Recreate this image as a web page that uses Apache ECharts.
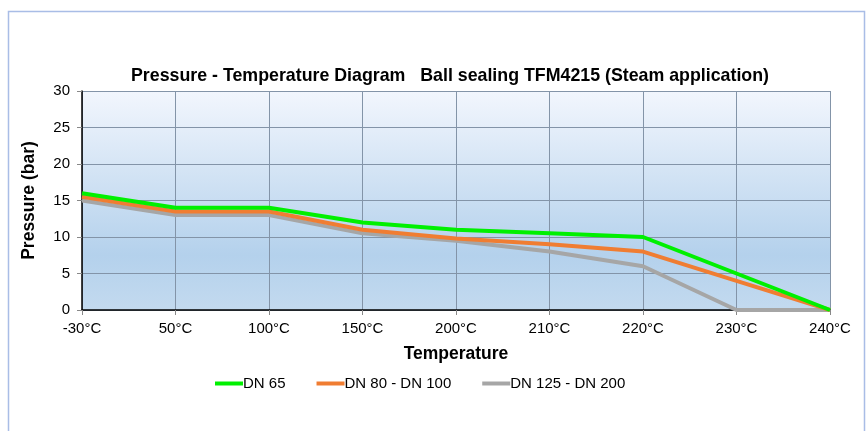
<!DOCTYPE html>
<html><head><meta charset="utf-8">
<script src="https://cdn.jsdelivr.net/npm/echarts@6/dist/echarts.min.js"></script>
<style>html,body{margin:0;padding:0;background:#fff}#c{width:868px;height:431px}</style>
</head><body><div id="c"></div>
<script>
const categories = ['-30°C','50°C','100°C','150°C','200°C','210°C','220°C','230°C','240°C'];
const dn65 = [16, 14, 14, 12, 11, 10.5, 10, 5, 0];
const dn80_100 = [15.5, 13.5, 13.5, 11, 9.8, 9, 8, 4, 0];
const dn125_200 = [15, 13, 13, 10.5, 9.5, 8, 6, 0, 0];
const yTicks = [0, 5, 10, 15, 20, 25, 30];

const chart = echarts.init(document.getElementById('c'));
const font = 'Liberation Sans, Arial, sans-serif';
chart.setOption({
  animation: false,
  graphic: [{type:'rect', shape:{x:8.5,y:11.5,width:856,height:440}, style:{fill:'none',stroke:'#a9bde6',lineWidth:1.5}, z:-1}],
  title: {text:'Pressure - Temperature Diagram   Ball sealing TFM4215 (Steam application)', left:445, textAlign:'center', top:62,
    textStyle:{fontFamily:font, fontSize:17.8, fontWeight:'bold', color:'#000'}},
  grid: {left:82, right:38, top:91, bottom:121, show:true, borderWidth:0,
    backgroundColor: new echarts.graphic.LinearGradient(0,0,0,1,[
      {offset:0,color:'#f2f6fd'},{offset:0.75,color:'#b4d1ec'},{offset:1,color:'#c3daef'}])},
  legend: {top:371, left:210, itemWidth:28, itemHeight:4, itemGap:31,
    textStyle:{fontFamily:font, fontSize:15, color:'#000', padding:[0,0,0,-5]},
    icon:'rect',
    data:['DN 65','DN 80 - DN 100','DN 125 - DN 200']},
  xAxis: {type:'category', data:categories, boundaryGap:false,
    name:'Temperature', nameLocation:'middle', nameGap:35,
    nameTextStyle:{fontFamily:font, fontSize:17.5, fontWeight:'bold', color:'#000'},
    axisLine:{lineStyle:{color:'#000', width:1.5}},
    axisTick:{length:5, lineStyle:{color:'#888'}, alignWithLabel:true},
    axisLabel:{fontFamily:font, fontSize:15, color:'#000', margin:11},
    splitLine:{show:true, lineStyle:{color:'#8394a8', width:1}}},
  yAxis: {type:'value', min:0, max:30, interval:5,
    name:'Pressure (bar)', nameLocation:'middle', nameGap:44,
    nameTextStyle:{fontFamily:font, fontSize:17.5, fontWeight:'bold', color:'#000'},
    axisLine:{show:true, lineStyle:{color:'#000', width:1.5}},
    axisTick:{show:true, length:5, lineStyle:{color:'#888'}},
    axisLabel:{fontFamily:font, fontSize:15, color:'#000', margin:12,
      formatter: v => yTicks.includes(v) ? String(v) : ''},
    splitLine:{show:true, lineStyle:{color:'#8394a8', width:1}}},
  series: [
    {name:'DN 125 - DN 200', type:'line', data:dn125_200, showSymbol:false, symbol:'none', z:3,
      lineStyle:{color:'#a6a6a6', width:4}, itemStyle:{color:'#a6a6a6'}},
    {name:'DN 80 - DN 100', type:'line', data:dn80_100, showSymbol:false, symbol:'none', z:4,
      lineStyle:{color:'#f07d32', width:4}, itemStyle:{color:'#f07d32'}},
    {name:'DN 65', type:'line', data:dn65, showSymbol:false, symbol:'none', z:5,
      lineStyle:{color:'#00f000', width:4}, itemStyle:{color:'#00f000'}}
  ]
});
</script></body></html>
